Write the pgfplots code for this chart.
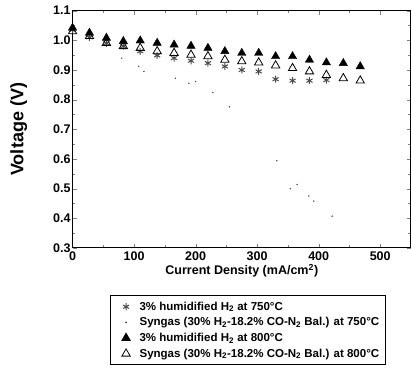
\documentclass[border=0pt]{standalone}
\usepackage{fontspec}
\setmainfont{Liberation Sans}
\usepackage{pgfplots}
\pgfplotsset{compat=1.18}
\begin{document}
\begin{tikzpicture}[trim axis right]
\begin{axis}[
  scale only axis,
  width=338pt, height=237pt,
  xmin=0, xmax=550, ymin=0.3, ymax=1.1,
  xtick={0,100,200,300,400,500},
  ytick={0.3,0.4,0.5,0.6,0.7,0.8,0.9,1.0,1.1},
  minor x tick num=1, minor y tick num=1,
  tick align=inside,
  axis line style={line width=1pt},
  /pgf/number format/assume math mode=true,
  yticklabel style={/pgf/number format/fixed, /pgf/number format/fixed zerofill, /pgf/number format/precision=1, xshift=1.5pt},
  tick label style={font=\bfseries\fontsize{12.5}{14}\selectfont},
  xlabel={\bfseries\fontsize{12.5}{14}\selectfont Current Density (mA/cm\textsuperscript{2})},
  ylabel={\bfseries\fontsize{18}{20}\selectfont Voltage (V)},
  xlabel style={yshift=3pt},
  ylabel style={yshift=19pt},
  legend image code/.code={\path (0pt,0pt) (22pt,0pt); \draw[#1] plot coordinates {(11pt,0pt)};},
  legend style={at={(0.518,-0.2)}, anchor=north, font=\bfseries\fontsize{11.5}{13}\selectfont, draw=black, line width=0.8pt, legend cell align=left, row sep=1.8pt, inner xsep=4pt, inner ysep=4pt},
]
\addplot[only marks, mark=asterisk, mark size=3.5pt, line width=1pt, color=black!70] coordinates {
(0,1.035)(27.5,1.01)(55,0.99)(82.5,0.98)(110,0.963)(137.5,0.949)(165,0.94)(192.5,0.931)
(220,0.923)(247.5,0.912)(275,0.900)(302.5,0.895)(330,0.869)(357.5,0.864)(385,0.864)(412.5,0.866)};
\addlegendentry{3\% humidified H\textsubscript{2} at 750°C}
\addplot[only marks, mark=*, mark size=0.5pt, color=black!70] coordinates {
(0,1.04)(80,0.94)(107.5,0.912)(116,0.895)(167,0.872)(189,0.855)(200,0.861)(228,0.824)(255,0.776)
(332,0.594)(354,0.5)(365,0.514)(384,0.475)(392,0.458)(422,0.407)};
\addlegendentry{Syngas (30\% H\textsubscript{2}-18.2\% CO-N\textsubscript{2} Bal.) at 750°C}
\addplot[only marks, mark=triangle*, mark size=4.8pt, color=black] coordinates {
(0,1.042)(27.5,1.025)(55,1.008)(82.5,0.997)(110,0.999)(137.5,0.991)(165,0.985)(192.5,0.981)
(220,0.974)(247.5,0.963)(275,0.957)(302.5,0.957)(330,0.946)(357.5,0.946)(385,0.934)(412.5,0.925)(440,0.923)(467.5,0.912)};
\addlegendentry{3\% humidified H\textsubscript{2} at 800°C}
\addplot[only marks, mark=triangle, mark size=4.8pt, line width=0.8pt, color=black] coordinates {
(0,1.03)(27.5,1.014)(55,0.991)(82.5,0.98)(110,0.974)(137.5,0.963)(165,0.957)(192.5,0.951)
(220,0.946)(247.5,0.934)(275,0.929)(302.5,0.925)(330,0.915)(357.5,0.906)(385,0.895)(412.5,0.883)(440,0.872)(467.5,0.864)};
\addlegendentry{Syngas (30\% H\textsubscript{2}-18.2\% CO-N\textsubscript{2} Bal.) at 800°C}
\end{axis}
\path ([yshift=-9pt]current bounding box.south) ([yshift=3pt]current bounding box.north) ([xshift=-7pt]current bounding box.west);
\end{tikzpicture}
\end{document}
